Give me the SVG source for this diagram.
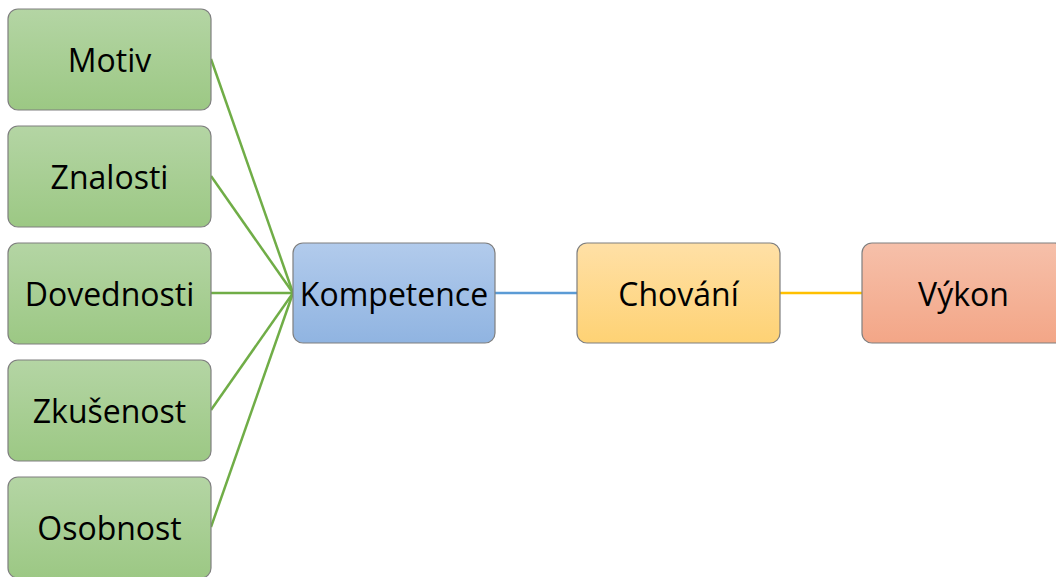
<svg xmlns="http://www.w3.org/2000/svg" width="1056" height="577" viewBox="0 0 1056 577">
<defs>
<linearGradient id="gG" x1="0" y1="0" x2="0" y2="1"><stop offset="0" stop-color="#b4d5a4"/><stop offset="1" stop-color="#9cc884"/></linearGradient>
<linearGradient id="gB" x1="0" y1="0" x2="0" y2="1"><stop offset="0" stop-color="#b2cbec"/><stop offset="1" stop-color="#90b4e1"/></linearGradient>
<linearGradient id="gY" x1="0" y1="0" x2="0" y2="1"><stop offset="0" stop-color="#ffe0a6"/><stop offset="1" stop-color="#fed274"/></linearGradient>
<linearGradient id="gO" x1="0" y1="0" x2="0" y2="1"><stop offset="0" stop-color="#f6c0aa"/><stop offset="1" stop-color="#f3a687"/></linearGradient>
<style>
.box{stroke:#7f7f7f;stroke-width:1.2}
.t{font-family:"Open Sans","Noto Sans",sans-serif;font-size:32px;fill:#000;text-anchor:middle;dominant-baseline:central}
.cg{stroke:#70ad47;stroke-width:2.5;fill:none}
</style>
</defs>
<g id="connectors">
<line class="cg" x1="211" y1="59" x2="293" y2="293"/>
<line class="cg" x1="211" y1="176" x2="293" y2="293"/>
<line class="cg" x1="211" y1="293" x2="293" y2="293"/>
<line class="cg" x1="211" y1="410" x2="293" y2="293"/>
<line class="cg" x1="211" y1="527" x2="293" y2="293"/>
<line x1="495" y1="293" x2="577" y2="293" stroke="#5b9bd5" stroke-width="2.5"/>
<line x1="780" y1="293" x2="862" y2="293" stroke="#ffc000" stroke-width="2.5"/>
</g>
<g id="motiv"><rect class="box" x="8" y="9" width="203" height="101" rx="10" fill="url(#gG)"/><text class="t" x="109.5" y="59">Motiv</text></g>
<g id="znalosti"><rect class="box" x="8" y="126" width="203" height="101" rx="10" fill="url(#gG)"/><text class="t" x="109.5" y="176">Znalosti</text></g>
<g id="dovednosti"><rect class="box" x="8" y="243" width="203" height="101" rx="10" fill="url(#gG)"/><text class="t" x="109.5" y="293">Dovednosti</text></g>
<g id="zkusenost"><rect class="box" x="8" y="360" width="203" height="101" rx="10" fill="url(#gG)"/><text class="t" x="109.5" y="410">Zkušenost</text></g>
<g id="osobnost"><rect class="box" x="8" y="477" width="203" height="101" rx="10" fill="url(#gG)"/><text class="t" x="109.5" y="527">Osobnost</text></g>
<g id="kompetence"><rect class="box" x="293" y="243" width="202" height="100" rx="10" fill="url(#gB)"/><text class="t" x="394" y="293">Kompetence</text></g>
<g id="chovani"><rect class="box" x="577" y="243" width="203" height="100" rx="10" fill="url(#gY)"/><text class="t" x="678.5" y="293">Chování</text></g>
<g id="vykon"><rect class="box" x="862" y="243" width="203" height="100" rx="10" fill="url(#gO)"/><text class="t" x="963.5" y="293">Výkon</text></g>
</svg>
